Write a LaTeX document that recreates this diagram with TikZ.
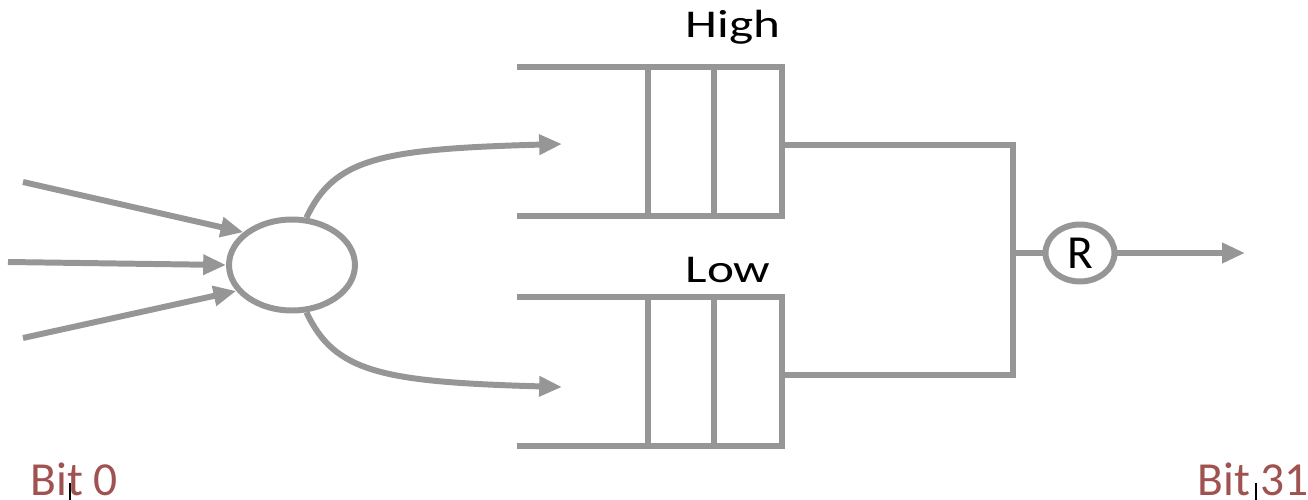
\documentclass[tikz,border=0pt]{standalone}
\usepackage{fontspec}
\setmainfont{Carlito}
\usepackage{graphicx}
\usepackage{xcolor}
\usetikzlibrary{shapes.geometric,arrows.meta}
\definecolor{wiregray}{RGB}{150,150,150}
\definecolor{bitred}{RGB}{160,82,80}

\begin{document}
\begin{tikzpicture}[
    x=0.02cm, y=-0.02cm,
    wire/.style={draw=wiregray, line width=3.4pt},
    arr/.style={wire, -{Triangle[length=13pt, width=11pt]}},
    oval/.style={ellipse, draw=wiregray, line width=3.4pt, fill=white, inner sep=0pt},
    lbl/.style={font=\fontsize{22.4}{26}\selectfont, text=black, anchor=base},
    bit/.style={font=\fontsize{27}{31}\selectfont, text=bitred, anchor=base west, inner sep=0pt}
]
\useasboundingbox (0,0) rectangle (1308,500);

% Selector
\node[oval, minimum width=2.52cm, minimum height=1.82cm] (sel) at (292,265) {};

% Inputs
\coordinate (in1) at (23,182);
\coordinate (in2) at (8,262);
\coordinate (in3) at (23,338);
\draw[arr] (in1) -- (sel.146);
\draw[arr] (in2) -- (sel.west);
\draw[arr] (in3) -- (sel.205);

% Queues
\foreach \y in {67, 297} {
  \draw[wire] (517,\y) -- (782,\y) -- (782,\y+149) -- (517,\y+149);
  \draw[wire] (648,\y) -- (648,\y+149);
  \draw[wire] (714,\y) -- (714,\y+149);
}
\coordinate (hiin) at (562,144);
\coordinate (loin) at (562,387);
\coordinate (hiout) at (782,145);
\coordinate (loout) at (782,375);
\node[lbl] (high) at (733,38) {\scalebox{1.3}[1]{High}};
\node[lbl] (low) at (728,282) {\scalebox{1.3}[1]{Low}};

% Selector to queues
\draw[arr] (sel.73) .. controls +(28,-60) and +(-180,5) .. (hiin);
\draw[arr] (sel.-73) .. controls +(28,60) and +(-180,-5) .. (loin);

% Merge and round robin
\coordinate (join) at (1013,253);
\node[oval, minimum width=1.38cm, minimum height=1.14cm,
      font=\fontsize{27}{31}\selectfont] (rr) at (1080,253) {R};
\draw[wire] (hiout) -| (join) |- (loout);
\draw[wire] (join) -- (rr);
\coordinate (out) at (1245,253);
\draw[arr] (rr) -- (out);

% Bit labels
\node[bit] (bit0) at (30,495) {Bit 0};
\node[bit] (bit31) at (1197,495) {Bit 31};
\draw[black, line width=0.6pt] (70,483) -- (70,500);
\draw[black, line width=0.6pt] (1256,483) -- (1256,500);
\end{tikzpicture}
\end{document}
